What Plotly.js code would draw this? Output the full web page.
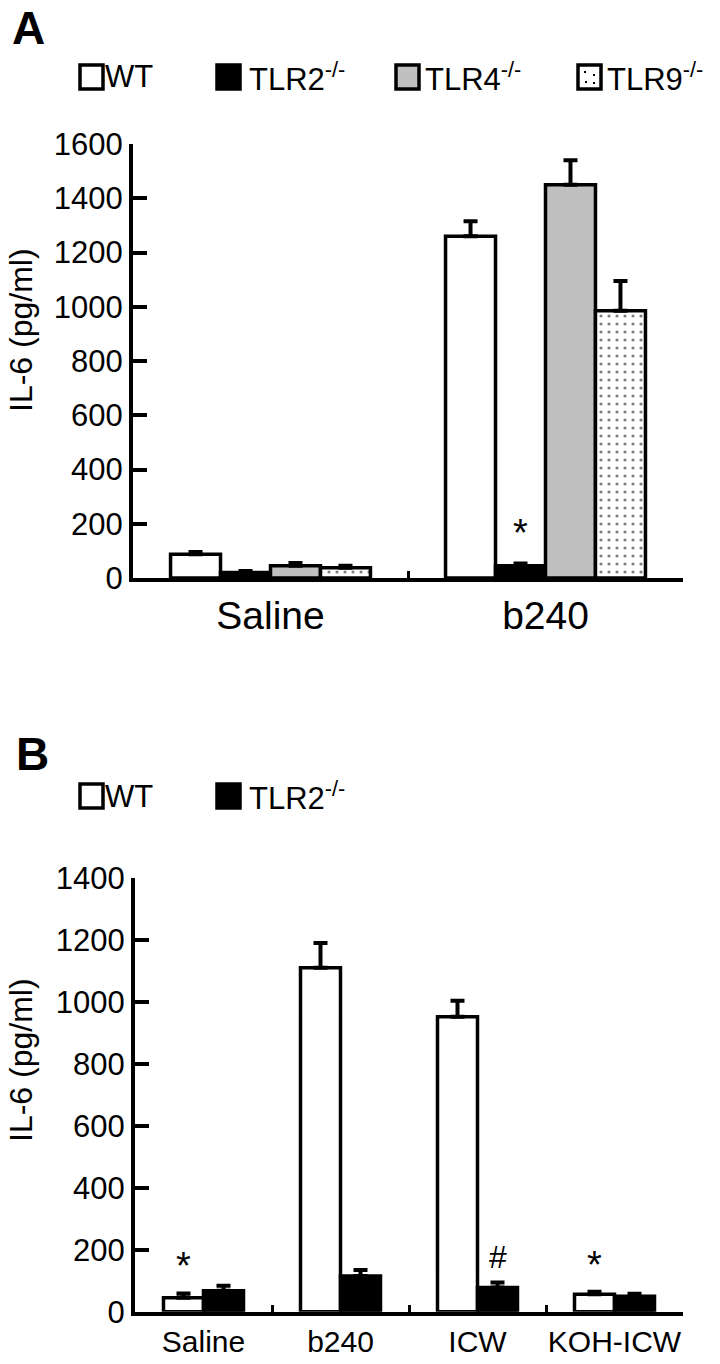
<!DOCTYPE html>
<html>
<head>
<meta charset="utf-8">
<script src="https://cdn.plot.ly/plotly-3.0.1.min.js"></script>
<style>html,body{margin:0;padding:0;background:#fff;}#chart{width:720px;height:1364px;}</style>
</head>
<body>
<div id="chart"></div>
<script>
// ---------- Data ----------
const categoriesA = ['Saline', 'b240'];
const seriesNamesA = ['WT', 'TLR2<sup>-/-</sup>', 'TLR4<sup>-/-</sup>', 'TLR9<sup>-/-</sup>'];
const wtA = [88, 1260];
const wtErrA = [8, 55];
const tlr2A = [20, 45];
const tlr2ErrA = [6, 8];
const tlr4A = [45, 1450];
const tlr4ErrA = [10, 90];
const tlr9A = [38, 985];
const tlr9ErrA = [7, 110];
const yTicksA = [0, 200, 400, 600, 800, 1000, 1200, 1400, 1600];

const categoriesB = ['Saline', 'b240', 'ICW', 'KOH-ICW'];
const seriesNamesB = ['WT', 'TLR2<sup>-/-</sup>'];
const wtB = [45, 1110, 952, 56];
const wtErrB = [14, 80, 52, 8];
const tlr2B = [68, 115, 78, 50];
const tlr2ErrB = [16, 20, 16, 8];
const yTicksB = [0, 200, 400, 600, 800, 1000, 1200, 1400];

// significance marks: [category index, series index, symbol]
const marksA = [[1, 1, '*']];
const marksB = [[0, 0, '*'], [2, 1, '#'], [3, 0, '*']];

const yTitle = 'IL-6 (pg/ml)';

// ---------- Styling ----------
const W = 720, H = 1364;
const FONT = 'Liberation Sans, Arial, Helvetica, sans-serif';
const styles = [
  {color: '#ffffff'},
  {color: '#000000'},
  {color: '#c0c0c0'},
  {color: '#ffffff', pattern: {shape: '.', fgcolor: '#000000', bgcolor: '#ffffff', size: 8, solidity: 0.12, fillmode: 'overlay'}}
];
const px = x => x / W;
const py = y => 1 - y / H;

function makeBars(cats, valueSets, errSets, names, groupFrac, xa, ya) {
  const n = valueSets.length;
  const w = groupFrac / n;
  return valueSets.map((vals, i) => ({
    type: 'bar',
    x: cats,
    y: vals,
    name: names[i],
    xaxis: xa, yaxis: ya,
    width: w,
    offset: -groupFrac / 2 + i * w,
    marker: Object.assign({color: styles[i].color, line: {color: '#000', width: 3.5}},
      styles[i].pattern ? {pattern: styles[i].pattern} : {}),
    error_y: {type: 'data', symmetric: false, array: errSets[i], arrayminus: vals.map(() => 0),
      color: '#000', thickness: 4, width: 7},
    showlegend: false,
    hoverinfo: 'skip'
  }));
}

const groupA = 0.727, groupB = 0.584;
const traces = [].concat(
  makeBars(categoriesA, [wtA, tlr2A, tlr4A, tlr9A], [wtErrA, tlr2ErrA, tlr4ErrA, tlr9ErrA], seriesNamesA, groupA, 'x', 'y'),
  makeBars(categoriesB, [wtB, tlr2B], [wtErrB, tlr2ErrB], seriesNamesB, groupB, 'x2', 'y2')
);

function markAnn(marks, valueSets, errSets, groupFrac, xref, yref, shifts) {
  const n = valueSets.length, w = groupFrac / n;
  return marks.map(([c, s, t]) => ({
    xref: xref, yref: yref,
    x: c - groupFrac / 2 + (s + 0.5) * w,
    y: valueSets[s][c] + errSets[s][c],
    text: t, showarrow: false, yanchor: 'bottom', xanchor: 'center',
    yshift: t === '#' ? shifts[1] : shifts[0],
    font: {family: FONT, size: t === '#' ? 32 : 38, color: '#000'}
  }));
}

const annotations = [].concat(
  markAnn(marksA, [wtA, tlr2A, tlr4A, tlr9A], [wtErrA, tlr2ErrA, tlr4ErrA, tlr9ErrA], groupA, 'x', 'y', [8, 0]),
  markAnn(marksB, [wtB, tlr2B], [wtErrB, tlr2ErrB], groupB, 'x2', 'y2', [4, 6])
);

// panel labels
annotations.push({xref: 'paper', yref: 'paper', x: px(10), y: py(0), xanchor: 'left', yanchor: 'top',
  text: '<b>A</b>', showarrow: false, font: {family: FONT, size: 46, color: '#000'}});
annotations.push({xref: 'paper', yref: 'paper', x: px(14), y: py(726), xanchor: 'left', yanchor: 'top',
  text: '<b>B</b>', showarrow: false, font: {family: FONT, size: 46, color: '#000'}});

// y-axis titles
annotations.push({xref: 'paper', yref: 'paper', x: px(21), y: py(330), xanchor: 'center', yanchor: 'middle',
  textangle: -90, text: yTitle, showarrow: false, font: {family: FONT, size: 32, color: '#000'}});
annotations.push({xref: 'paper', yref: 'paper', x: px(21), y: py(1060), xanchor: 'center', yanchor: 'middle',
  textangle: -90, text: yTitle, showarrow: false, font: {family: FONT, size: 32, color: '#000'}});

// manual legends
const shapes = [];
function legend(names, boxX, textX, cy) {
  names.forEach((nm, i) => {
    const st = styles[i];
    shapes.push({type: 'rect', xref: 'paper', yref: 'paper',
      x0: px(boxX[i]), x1: px(boxX[i] + 23), y0: py(cy + 12), y1: py(cy - 12),
      fillcolor: st.color, line: {color: '#000', width: 3.5}});
    if (st.pattern) {
      [[7, -5], [16, -2], [8, 5], [16, 6]].forEach(([dx, dy]) => {
        shapes.push({type: 'rect', xref: 'paper', yref: 'paper',
          x0: px(boxX[i] + dx - 1), x1: px(boxX[i] + dx + 1), y0: py(cy + dy + 1), y1: py(cy + dy - 1),
          fillcolor: '#000', line: {width: 0}});
      });
    }
    annotations.push({xref: 'paper', yref: 'paper', x: px(textX[i]), y: py(cy), xanchor: 'left', yanchor: 'middle',
      text: nm, showarrow: false, font: {family: FONT, size: 31, color: '#000'}});
  });
}
legend(seriesNamesA, [80, 217, 396, 578], [103, 247, 423, 605], 77);
legend(seriesNamesB, [80, 217], [103, 247], 796);

const yaxisCommon = {
  showline: true, linecolor: '#000', linewidth: 4, ticks: 'inside', ticklen: 14, tickwidth: 4, tickcolor: '#000',
  showgrid: false, zeroline: false, tickmode: 'array',
  tickfont: {family: FONT, size: 31, color: '#000'},
  fixedrange: true
};
const xaxisCommon = {
  type: 'category', showline: true, linecolor: '#000', linewidth: 4, ticks: 'inside', ticklen: 7, tickwidth: 3,
  tickcolor: '#000', tickson: 'boundaries', showgrid: false, zeroline: false, fixedrange: true, tickangle: 0
};

const layout = {
  width: W, height: H,
  margin: {l: 0, r: 0, t: 0, b: 0},
  paper_bgcolor: '#fff', plot_bgcolor: '#fff',
  barmode: 'overlay',
  showlegend: false,
  font: {family: FONT, color: '#000'},
  xaxis: Object.assign({}, xaxisCommon, {domain: [px(133), px(683)], anchor: 'y', range: [-0.5, 1.5],
    tickfont: {family: FONT, size: 39, color: '#000'}}),
  yaxis: Object.assign({}, yaxisCommon, {domain: [py(578), py(144)], anchor: 'x', range: [0, 1600], tickvals: yTicksA}),
  xaxis2: Object.assign({}, xaxisCommon, {domain: [px(135), px(683)], anchor: 'y2', range: [-0.5, 3.5],
    tickfont: {family: FONT, size: 30, color: '#000'}}),
  yaxis2: Object.assign({}, yaxisCommon, {domain: [py(1311.7), py(878)], anchor: 'x2', range: [0, 1400], tickvals: yTicksB}),
  annotations: annotations,
  shapes: shapes
};

Plotly.newPlot('chart', traces, layout, {displayModeBar: false, staticPlot: true});
</script>
</body>
</html>
